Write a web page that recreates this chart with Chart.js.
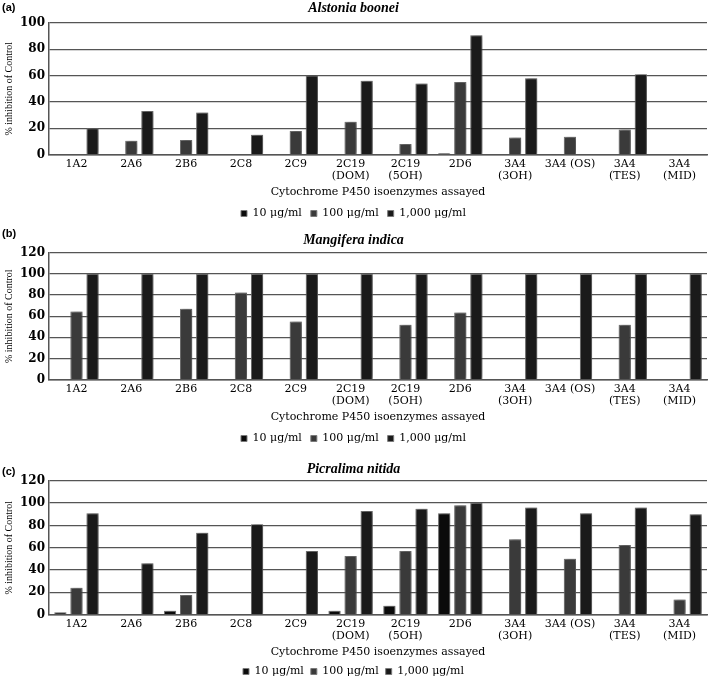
<!DOCTYPE html>
<html>
<head>
<meta charset="utf-8">
<script src="https://cdn.jsdelivr.net/npm/chart.js@4.4.1/dist/chart.umd.min.js"></script>
<style>
  html, body { margin: 0; background: #fff; overflow: hidden; }
  #wrap { position: relative; width: 709px; height: 677px; overflow: hidden; }
  .panel { position: absolute; left: 0; width: 709px; }
  .tag { position: absolute; left: 2px; font: bold 11px "Liberation Sans", Arial, sans-serif; color: #000; }
</style>
</head>
<body>
<div id="wrap">
  <div class="panel" style="top:0;height:229px"><canvas id="chartA"></canvas></div>
  <div class="panel" style="top:226px;height:228px"><canvas id="chartB"></canvas></div>
  <div class="panel" style="top:453px;height:234px"><canvas id="chartC"></canvas></div>
  <div class="tag" style="top:1px">(a)</div>
  <div class="tag" style="top:227px">(b)</div>
  <div class="tag" style="top:465px">(c)</div>
</div>
<script>
// isoenzymes
const categories = ['1A2', '2A6', '2B6', '2C8', '2C9', ['2C19', '(DOM)'], ['2C19', '(5OH)'], '2D6',
  ['3A4', '(3OH)'], '3A4 (OS)', ['3A4', '(TES)'], ['3A4', '(MID)']];
const doses = ['10 μg/ml', '100 μg/ml', '1,000 μg/ml'];

// (a) Alstonia boonei
const alstonia10   = [null, null, null, null, null, null, null, 1, null, null, null, null];
const alstonia100  = [null, 10.5, 11, null, 18, 25, 8, 55, 13, 13.5, 19, null];
const alstonia1000 = [20, 33, 32, 15, 60, 56, 54, 90.5, 58, null, 61, null];

// (b) Mangifera indica
const mangifera10   = [null, null, null, null, null, null, null, null, null, null, null, null];
const mangifera100  = [64.5, null, 67, 82.5, 55, null, 52, 63.5, null, null, 52, null];
const mangifera1000 = [100, 100, 100, 100, 100, 100, 100, 100, 100, 100, 100, 100];

// (c) Picralima nitida
const picralima10   = [2, null, 3.5, null, null, 3.5, 8, 91, null, null, null, null];
const picralima100  = [24, null, 17.5, null, null, 52.5, 57, 98, 67.5, 50, 62.5, 13.5];
const picralima1000 = [91, 46, 73.5, 81, 57, 93, 95, 100, 96, 91, 96, 90];

const colors = ['#0b0b0b', '#3a3a3a', '#1a1a1a'];
const serif = '"DejaVu Serif", "Liberation Serif", serif';

// soft grey glow round the bars, like the original 3D look
const barShadow = {
  id: 'barShadow',
  beforeDatasetsDraw(chart) {
    const ctx = chart.ctx;
    ctx.save();
    ctx.shadowColor = 'rgba(0,0,0,0.55)';
    ctx.shadowBlur = 4;
    ctx.shadowOffsetX = 1;
    ctx.shadowOffsetY = 0;
  },
  afterDatasetsDraw(chart) {
    chart.ctx.restore();
  }
};

function makeChart(id, title, d10, d100, d1000, ymax, titlePad, legendPad) {
  const sets = [d10, d100, d1000].map(function (vals, i) {
    return {
      label: doses[i],
      data: vals,
      backgroundColor: colors[i],
      borderColor: '#7a7a7a',
      borderWidth: 1,
      categoryPercentage: 0.88,
      barPercentage: 0.76
    };
  });
  return new Chart(document.getElementById(id), {
    type: 'bar',
    data: { labels: categories, datasets: sets },
    plugins: [barShadow],
    options: {
      responsive: true,
      maintainAspectRatio: false,
      animation: false,
      layout: { padding: { left: 0, right: 2, top: 0, bottom: 0 } },
      plugins: {
        title: {
          display: true,
          text: title,
          color: '#000',
          font: { family: '"Liberation Serif", serif', size: 14, style: 'italic', weight: 'bold' },
          padding: titlePad
        },
        legend: {
          position: 'bottom',
          labels: {
            color: '#000',
            boxWidth: 6,
            boxHeight: 6,
            padding: legendPad,
            font: { family: serif, size: 11 }
          }
        },
        tooltip: { enabled: false }
      },
      scales: {
        x: {
          grid: { display: false, drawTicks: false },
          border: { display: true, color: '#555', width: 1.5 },
          ticks: {
            color: '#000',
            maxRotation: 0,
            autoSkip: false,
            padding: 3,
            font: { family: serif, size: 11, lineHeight: 1.1 }
          },
          title: {
            display: true,
            text: 'Cytochrome P450 isoenzymes assayed',
            color: '#000',
            padding: { top: 1, bottom: 0 },
            font: { family: serif, size: 11 }
          }
        },
        y: {
          min: 0,
          max: ymax,
          ticks: {
            stepSize: 20,
            color: '#000',
            padding: 4,
            font: { family: serif, size: 12, weight: 'bold' }
          },
          grid: { color: '#555', lineWidth: 1.3, drawTicks: false },
          border: { display: true, color: '#555', width: 1.5 },
          title: {
            display: true,
            text: '% inhibition of Control',
            color: '#000',
            padding: { top: 3, bottom: 1 },
            font: { family: '"Liberation Serif", serif', size: 10 }
          }
        }
      }
    }
  });
}

makeChart('chartA', 'Alstonia boonei', alstonia10, alstonia100, alstonia1000, 100, { top: 0, bottom: 6 }, 9);
makeChart('chartB', 'Mangifera indica', mangifera10, mangifera100, mangifera1000, 120, { top: 6, bottom: 4 }, 9);
makeChart('chartC', 'Picralima nitida', picralima10, picralima100, picralima1000, 120, { top: 8, bottom: 3 }, 7);
</script>
</body>
</html>
